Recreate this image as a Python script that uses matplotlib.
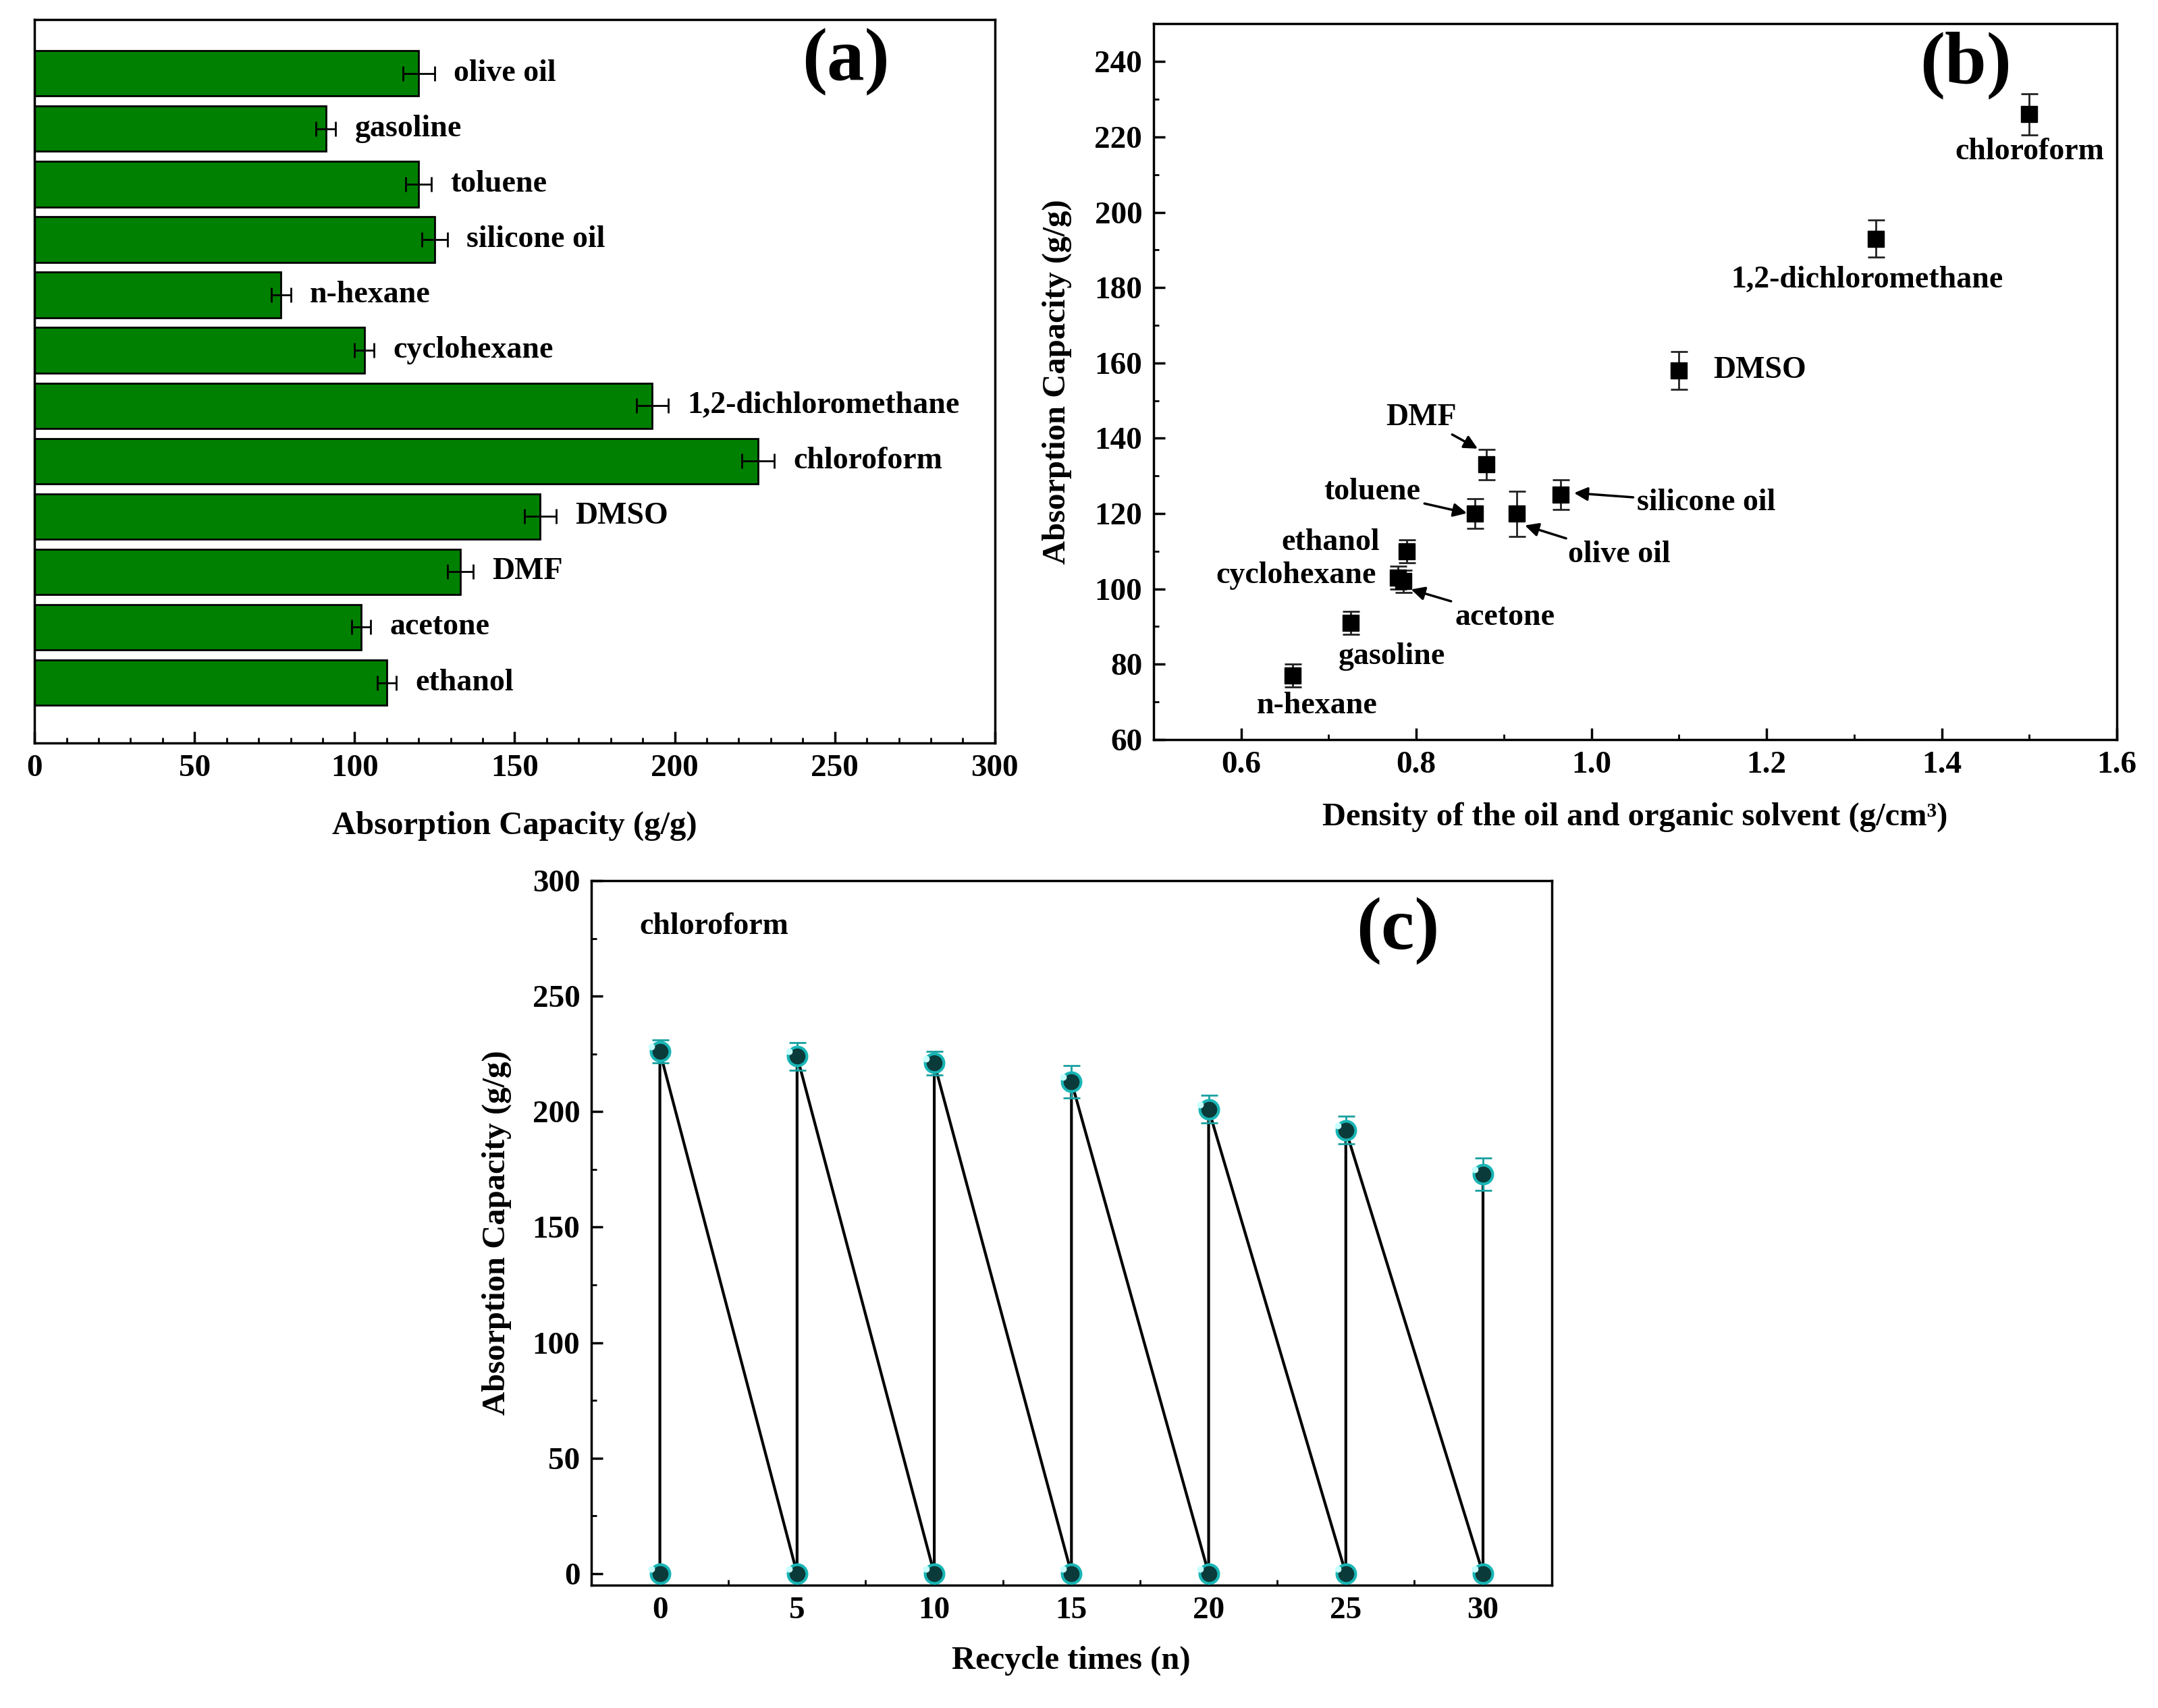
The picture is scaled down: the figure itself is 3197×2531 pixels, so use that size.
import matplotlib
matplotlib.use("Agg")
import matplotlib.pyplot as plt
import numpy as np

plt.rcParams['font.family'] = ['Liberation Serif', 'DejaVu Serif']
plt.rcParams['font.weight'] = 'bold'
plt.rcParams['axes.labelweight'] = 'bold'

# Data
solvents = ['ethanol', 'acetone', 'DMF', 'DMSO', 'chloroform', '1,2-dichloromethane',
            'cyclohexane', 'n-hexane', 'silicone oil', 'toluene', 'gasoline', 'olive oil']
capacity = [110, 102, 133, 158, 226, 193, 103, 77, 125, 120, 91, 120]
capacity_err = [3, 3, 4, 5, 5, 5, 3, 3, 4, 4, 3, 5]

density = [0.789, 0.785, 0.880, 1.100, 1.500, 1.325, 0.779, 0.659, 0.965, 0.867, 0.725, 0.915]
density_err = [3, 3, 4, 5, 5.5, 5, 3, 3, 4, 4, 3, 6]

cycles = [0, 5, 10, 15, 20, 25, 30]
cycle_capacity = [226, 224, 221, 213, 201, 192, 173]
cycle_err = [5, 6, 5, 7, 6, 6, 7]

fig = plt.figure(figsize=(31.97, 25.31), dpi=100)

tick_fs = 34
label_fs = 35
text_fs = 33
panel_fs = 80


def style_axes(ax):
    for s in ax.spines.values():
        s.set_linewidth(2.5)
    ax.tick_params(which='major', direction='in', length=12, width=2.5,
                   labelsize=tick_fs, top=False, right=False, pad=12)
    ax.tick_params(which='minor', direction='in', length=6, width=2,
                   top=False, right=False)
    for lab in ax.get_xticklabels() + ax.get_yticklabels():
        lab.set_fontweight('bold')


# (a) bar chart
ax1 = fig.add_axes([0.016, 0.565, 0.445, 0.4235])
ypos = np.arange(len(solvents))
ax1.barh(ypos, capacity, height=0.82, color='#008000', edgecolor='black',
         linewidth=2, xerr=capacity_err,
         error_kw=dict(ecolor='black', elinewidth=2, capsize=8, capthick=2))
for y, v, e, name in zip(ypos, capacity, capacity_err, solvents):
    ax1.text(v + e + 6, y, name, fontsize=text_fs, fontweight='bold', va='center', ha='left')
ax1.set_xlim(0, 300)
ax1.set_ylim(-1.09, 11.97)
ax1.set_yticks([])
ax1.set_xticks(np.arange(0, 301, 50))
ax1.set_xticks(np.arange(0, 301, 10), minor=True)
ax1.set_xlabel('Absorption Capacity (g/g)', fontsize=label_fs, fontweight='bold', labelpad=30)
ax1.text(253.5, 11.2, '(a)', fontsize=panel_fs, fontweight='bold', ha='center', va='center')
style_axes(ax1)

# (b) capacity vs density
ax2 = fig.add_axes([0.5345, 0.567, 0.4465, 0.419])
ax2.errorbar(density, capacity, yerr=density_err, fmt='s', color='black',
             markersize=17, ecolor='#222222', elinewidth=2, capsize=9, capthick=2)
ax2.set_xlim(0.5, 1.6)
ax2.set_ylim(60, 250)
ax2.set_xticks(np.arange(0.6, 1.61, 0.2))
ax2.set_xticks(np.arange(0.5, 1.61, 0.1), minor=True)
ax2.set_yticks(np.arange(60, 241, 20))
ax2.set_yticks(np.arange(60, 251, 10), minor=True)
ax2.xaxis.set_major_formatter(matplotlib.ticker.FormatStrFormatter('%.1f'))
ax2.set_xlabel('Density of the oil and organic solvent (g/cm³)', fontsize=label_fs,
               fontweight='bold', labelpad=24)
ax2.set_ylabel('Absorption Capacity (g/g)', fontsize=label_fs, fontweight='bold', labelpad=24)

tk = dict(fontsize=text_fs, fontweight='bold', va='center')
arrow = dict(arrowstyle='-|>', color='black', lw=2.5, mutation_scale=30)
ax2.text(1.5, 216, 'chloroform', ha='center', **tk)
ax2.text(1.315, 182, '1,2-dichloromethane', ha='center', **tk)
ax2.text(1.139, 158, 'DMSO', ha='left', **tk)
ax2.text(0.702, 112.3, 'ethanol', ha='center', **tk)
ax2.text(0.663, 103.5, 'cyclohexane', ha='center', **tk)
ax2.text(0.772, 82, 'gasoline', ha='center', **tk)
ax2.text(0.687, 69, 'n-hexane', ha='center', **tk)
ax2.annotate('DMF', xy=(0.872, 137), xytext=(0.806, 145.5), ha='center', arrowprops=arrow, **tk)
ax2.annotate('toluene', xy=(0.860, 120), xytext=(0.75, 125.8), ha='center', arrowprops=arrow, **tk)
ax2.annotate('silicone oil', xy=(0.978, 125.5), xytext=(1.052, 122.9), ha='left',
             arrowprops=arrow, **tk)
ax2.annotate('olive oil', xy=(0.922, 117), xytext=(0.973, 109), ha='left', arrowprops=arrow, **tk)
ax2.annotate('acetone', xy=(0.792, 100), xytext=(0.844, 92.5), ha='left', arrowprops=arrow, **tk)
ax2.text(1.427, 239, '(b)', fontsize=panel_fs, fontweight='bold', ha='center', va='center')
style_axes(ax2)

# (c) recycling
ax3 = fig.add_axes([0.274, 0.0719, 0.445, 0.4125])
xs, ys = [], []
for c, v in zip(cycles, cycle_capacity):
    xs += [c, c]
    ys += [0, v]
ax3.plot(xs, ys, color='black', lw=3, zorder=2)
ax3.errorbar(cycles, cycle_capacity, yerr=cycle_err, fmt='none', ecolor='#1aa0a0',
             elinewidth=2, capsize=9, capthick=2, zorder=3)
ax3.plot(xs, ys, 'o', ls='none', markersize=20, markerfacecolor='#0b3a3a',
         markeredgecolor='#19b5b5', markeredgewidth=3, zorder=4)
ax3.plot(np.array(xs) - 0.3, np.array(ys) + 2, 'o', ls='none', markersize=6,
         color='#c8ffff', zorder=5)
ax3.set_xlim(-2.5, 32.5)
ax3.set_ylim(-5, 300)
ax3.set_xticks(cycles)
ax3.set_xticks(np.arange(-2.5, 32.6, 2.5), minor=True)
ax3.set_yticks(np.arange(0, 301, 50))
ax3.set_yticks(np.arange(0, 301, 25), minor=True)
ax3.set_xlabel('Recycle times (n)', fontsize=label_fs, fontweight='bold', labelpad=22)
ax3.set_ylabel('Absorption Capacity (g/g)', fontsize=label_fs, fontweight='bold', labelpad=22)
ax3.text(-0.75, 280, 'chloroform', fontsize=text_fs, fontweight='bold', ha='left', va='center')
ax3.text(26.9, 278, '(c)', fontsize=panel_fs, fontweight='bold', ha='center', va='center')
style_axes(ax3)

fig.savefig('out.png', dpi=100, facecolor='white')
